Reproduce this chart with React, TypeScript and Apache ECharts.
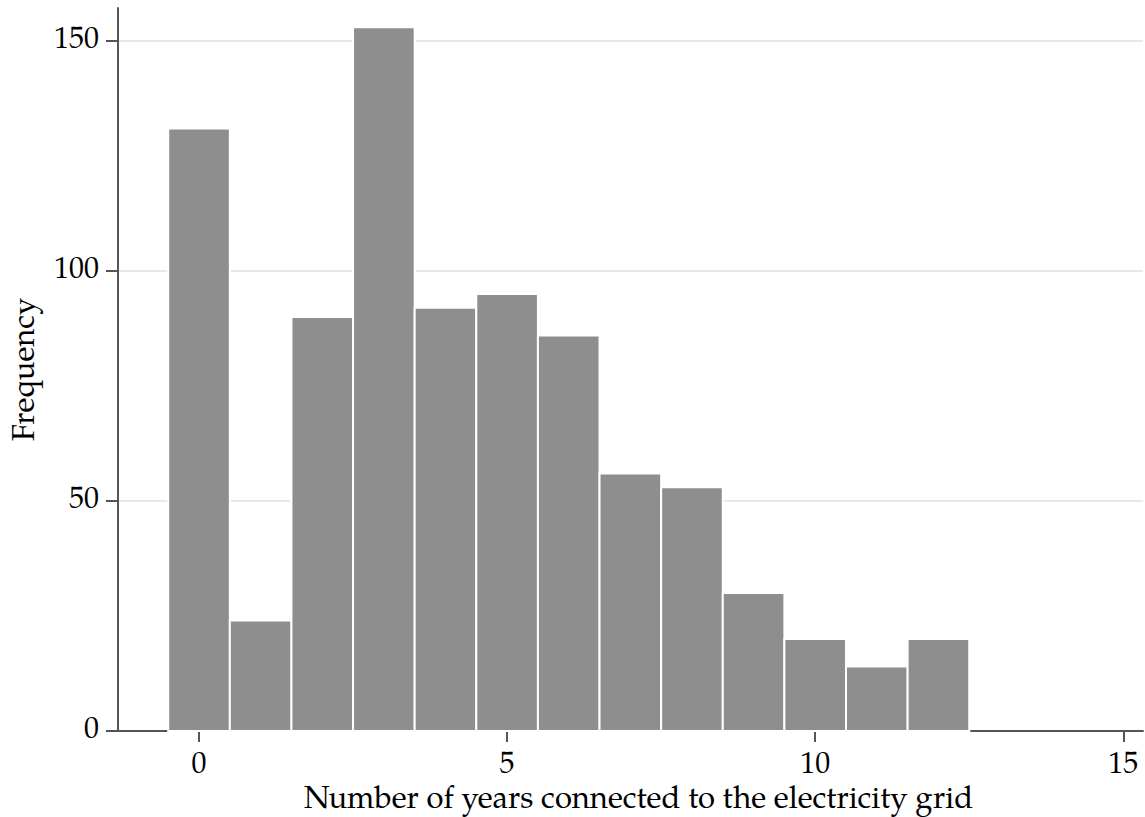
import React, { useEffect, useRef } from "react";
import * as echarts from "echarts";

const years: number[] = [0, 1, 2, 3, 4, 5, 6, 7, 8, 9, 10, 11, 12];
const frequency: number[] = [131, 24, 90, 153, 92, 95, 86, 56, 53, 30, 20, 14, 20];
const xTicks: number[] = [0, 5, 10, 15];
const yTicks: number[] = [0, 50, 100, 150];

const FONT = "'TeX Gyre Pagella', 'Palatino Linotype', Palatino, 'Liberation Serif', serif";

export default function App() {
  const ref = useRef<HTMLDivElement>(null);
  useEffect(() => {
    if (!ref.current) return;
    const chart = echarts.init(ref.current, null, { renderer: "svg" });
    const data = years.map((y, i) => [y, frequency[i]]);
    chart.setOption({
      animation: false,
      backgroundColor: "#ffffff",
      grid: { left: 118, right: 2, top: 8, bottom: 86, containLabel: false, outerBoundsMode: "none" },
      xAxis: {
        type: "value",
        min: -1.315,
        max: 15.32,
        name: "Number of years connected to the electricity grid",
        nameLocation: "middle",
        nameGap: 47,
        nameTextStyle: { fontFamily: FONT, fontSize: 31, color: "#000", padding: [0, 0, 0, 16] },
        axisLine: { show: true, onZero: false, lineStyle: { color: "#555", width: 2 } },
        axisTick: { show: true, length: 11, customValues: xTicks, lineStyle: { color: "#555", width: 2 } },
        axisLabel: { customValues: xTicks, fontFamily: FONT, fontSize: 30, color: "#000", margin: 20 },
        splitLine: { show: false },
      },
      yAxis: {
        type: "value",
        min: 0,
        max: 157.2,
        name: "Frequency",
        nameLocation: "middle",
        nameGap: 76,
        nameRotate: 90,
        nameTextStyle: { fontFamily: FONT, fontSize: 31, color: "#000" },
        axisLine: { show: true, onZero: false, lineStyle: { color: "#555", width: 2 } },
        axisTick: { show: true, length: 12, customValues: yTicks, lineStyle: { color: "#555", width: 2 } },
        axisLabel: { customValues: yTicks, fontFamily: FONT, fontSize: 30, color: "#000", margin: 19 },
        splitLine: { show: true, lineStyle: { color: "#e8e8e8", width: 2 } },
      },
      series: [
        {
          type: "custom",
          data,
          renderItem: (params: any, api: any) => {
            const x = api.value(0);
            const v = api.value(1);
            const p0 = api.coord([x - 0.5, v]);
            const p1 = api.coord([x + 0.5, 0]);
            return {
              type: "rect",
              shape: { x: p0[0], y: p0[1], width: p1[0] - p0[0], height: p1[1] - p0[1] },
              style: { fill: "#8e8e8e", stroke: "#ffffff", lineWidth: 2 },
            };
          },
          z: 3,
        },
      ],
    });
    return () => chart.dispose();
  }, []);
  return (
    <div
      ref={ref}
      style={{ position: "fixed", left: 0, top: 0, width: 1145, height: 817, background: "#fff" }}
    />
  );
}
